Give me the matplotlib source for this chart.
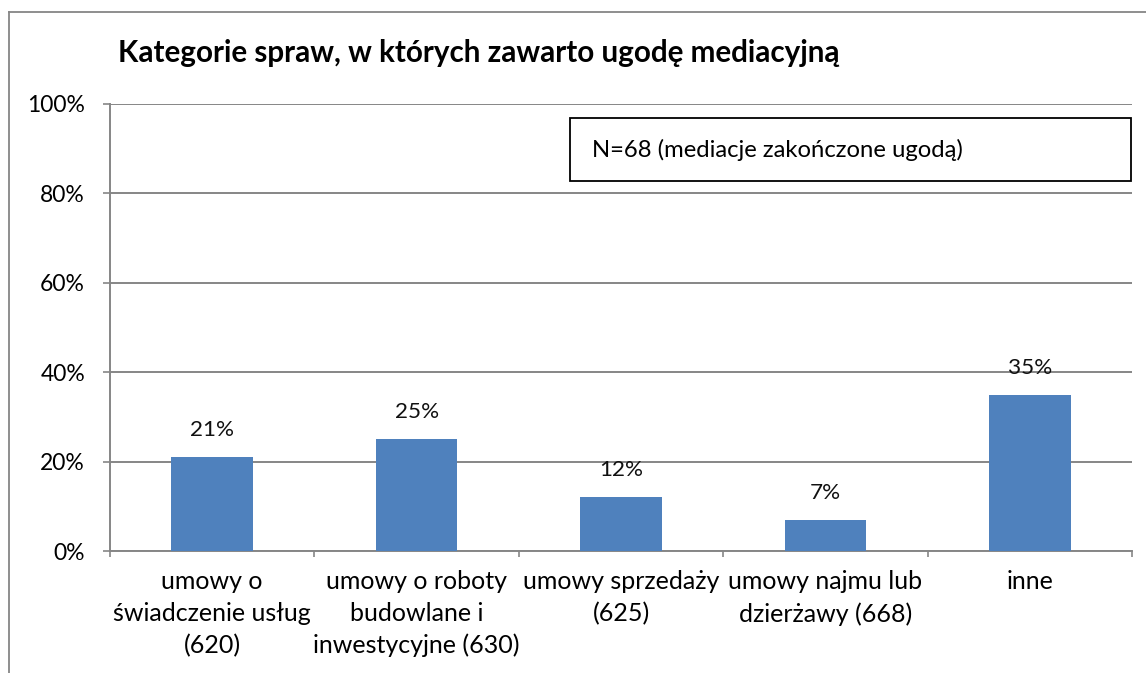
import matplotlib
matplotlib.use("Agg")
import matplotlib.pyplot as plt
from matplotlib.lines import Line2D
from matplotlib.patches import Rectangle

plt.rcParams['font.family'] = ['Lato', 'DejaVu Sans']

categories = ["umowy o\nświadczenie usług\n(620)",
              "umowy o roboty\nbudowlane i\ninwestycyjne (630)",
              "umowy sprzedaży\n(625)",
              "umowy najmu lub\ndzierżawy (668)",
              "inne"]
values = [21, 25, 12, 7, 35]
yticks = [0, 20, 40, 60, 80, 100]
title = "Kategorie spraw, w których zawarto ugodę mediacyjną"
note = "N=68 (mediacje zakończone ugodą)"

W, H = 1146, 673
GRID = "#868686"
BAR = "#4F81BD"

fig = plt.figure(figsize=(W / 100, H / 100), dpi=100)
fig.patch.set_facecolor("white")

# outer chart border (left + top visible)
fig.add_artist(Line2D([9 / W, 9 / W], [0, 1 - 12 / H], color=GRID, lw=1.3))
fig.add_artist(Line2D([9 / W, 1], [1 - 12 / H, 1 - 12 / H], color=GRID, lw=1.3))

l, r, t, b = 110, 1132, 104, 551
ax = fig.add_axes([l / W, 1 - b / H, (r - l) / W, (b - t) / H])

x = list(range(len(values)))
ax.bar(x, values, width=0.4, color=BAR, zorder=3)
for xi, v in zip(x, values):
    ax.annotate("%d%%" % v, (xi, v), xytext=(0, 27), textcoords="offset pixels",
                ha="center", va="center", fontsize=16.2, color="#111")

ax.set_xlim(-0.5, len(values) - 0.5)
ax.set_ylim(0, 100)
ax.set_yticks(yticks)
ax.set_yticklabels(["%d%%" % v for v in yticks], fontsize=16.5)
ax.yaxis.grid(True, color=GRID, lw=1.4, zorder=0)
ax.set_axisbelow(True)

ax.set_xticks([i - 0.5 for i in range(len(values) + 1)], minor=False)
ax.set_xticklabels([])
ax.set_xticks(x, minor=True)
ax.set_xticklabels(categories, minor=True, fontsize=18, linespacing=1.45)
ax.tick_params(axis="x", which="major", length=4.5, width=1.2, color=GRID, direction="out")
ax.tick_params(axis="x", which="minor", length=0, pad=14)
ax.tick_params(axis="y", length=5, width=1.2, color=GRID, pad=13)

for s in ["top", "right"]:
    ax.spines[s].set_visible(False)
for s in ["left", "bottom"]:
    ax.spines[s].set_color(GRID)
    ax.spines[s].set_linewidth(1.4)

fig.text(118 / W, 1 - 62 / H, title, fontsize=21.3, fontweight="bold",
         ha="left", va="baseline")

# N box
bx0, bx1, by0, by1 = 570, 1131, 118, 181
fig.add_artist(Rectangle((bx0 / W, 1 - by1 / H), (bx1 - bx0) / W, (by1 - by0) / H,
                         transform=fig.transFigure, fill=True, facecolor="white",
                         edgecolor="black", lw=1.3, zorder=5))
fig.text(592 / W, 1 - 150 / H, note, fontsize=17.2, va="center", ha="left", zorder=6)

fig.savefig("out.png", dpi=100, facecolor="white")
